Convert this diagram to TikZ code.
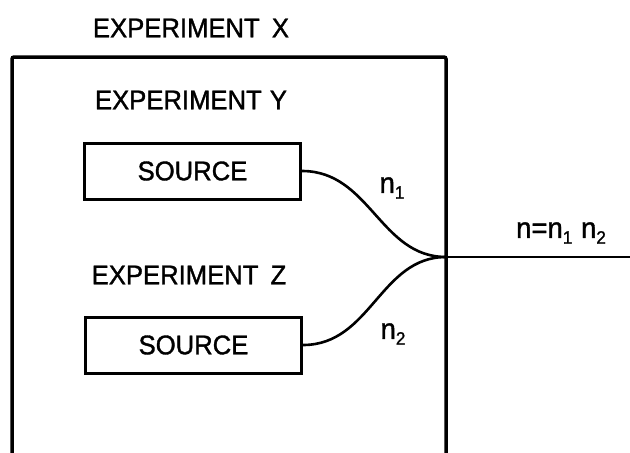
\documentclass[tikz,border=0pt]{standalone}
\usepackage{fontspec}
\setmainfont{Liberation Sans}[FakeStretch=0.95,FakeBold=1.3]
\usetikzlibrary{calc}
\newcommand{\lowidx}[1]{\raisebox{-0.2em}{\fontsize{18}{18}\selectfont #1}}
\begin{document}
\begin{tikzpicture}[x=1pt,y=-1pt,
  lettering/.style={inner sep=0pt,font=\fontsize{27}{27}\selectfont},
  idxlabel/.style={inner sep=0pt,font=\fontsize{29}{29}\selectfont},
  srcbox/.style={draw,line width=3pt,minimum width=216pt,minimum height=56pt,inner sep=0pt,font=\fontsize{27}{27}\selectfont},
  wire/.style={line width=2.6pt},
  frame/.style={line width=3.5pt,rounded corners=2pt}]
\useasboundingbox (0,0) rectangle (630,453);

% enclosing experiment X
\coordinate (fbl) at (12,470);
\coordinate (ftl) at (12,57);
\coordinate (ftr) at (446,57);
\coordinate (fbr) at (446,470);
\draw[frame] (fbl) -- (ftl) -- (ftr) -- (fbr);

% titles
\node[lettering] (tx) at (191,28) {EXPERIMENT\hspace{0.45em}X};
\node[lettering] (ty) at (191,100) {EXPERIMENT\hspace{0.3em}Y};
\node[lettering] (tz) at (189,275) {EXPERIMENT\hspace{0.45em}Z};

% the two sources
\node[srcbox] (s1) at (192.5,171) {SOURCE};
\node[srcbox] (s2) at (193.5,345) {SOURCE};

% junction and output
\coordinate (J) at (446,257);
\coordinate (out) at (632,257);
\draw[wire] (s1.east) .. controls +(68,0) and +(-66,0) .. (J);
\draw[wire] (s2.east) .. controls +(68,0) and +(-66,0) .. (J);
\draw[wire] (J) -- (out);

% labels
\node[idxlabel] (n1) at (392,188) {n\lowidx{1}};
\node[idxlabel] (n2) at (393,334) {n\lowidx{2}};
\node[idxlabel] (nn) at (561,233) {n=n\lowidx{1}\hspace{0.3em}n\lowidx{2}};
\end{tikzpicture}
\end{document}
